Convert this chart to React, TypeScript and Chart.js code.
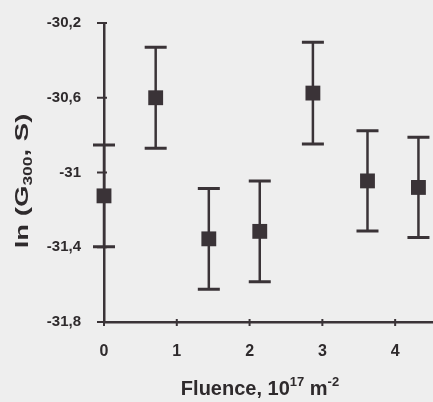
import React, { useEffect, useRef } from "react";
import { Chart, registerables } from "chart.js";

Chart.register(...registerables);

// Data
const fluence = [0.0, 0.71, 1.44, 2.14, 2.87, 3.62, 4.32];
const lnG = [-31.125, -30.6, -31.355, -31.315, -30.575, -31.045, -31.08];
const errors = [0.272, 0.27, 0.27, 0.27, 0.272, 0.268, 0.268];
const xTickValues = [0, 1, 2, 3, 4];
const yTickValues = [-31.8, -31.4, -31, -30.6, -30.2];

const INK = "#3a3337";
const BG = "#eeeeee";
const FONT = "'Liberation Sans', Arial, sans-serif";

const fmt = (v: number) => String(Number(v.toFixed(1))).replace(".", ",");

const decorPlugin = {
  id: "decor",
  beforeDraw(chart: any) {
    const { ctx, width, height } = chart;
    ctx.save();
    ctx.fillStyle = BG;
    ctx.fillRect(0, 0, width, height);
    ctx.restore();
  },
  beforeDatasetsDraw(chart: any) {
    const { ctx } = chart;
    const xs = chart.scales.x;
    const ys = chart.scales.y;
    ctx.save();
    ctx.strokeStyle = INK;
    ctx.lineCap = "butt";
    for (let i = 0; i < fluence.length; i++) {
      const x = xs.getPixelForValue(fluence[i]);
      const yt = ys.getPixelForValue(lnG[i] + errors[i]);
      const yb = ys.getPixelForValue(lnG[i] - errors[i]);
      ctx.lineWidth = 2.5;
      ctx.beginPath();
      ctx.moveTo(x, yt);
      ctx.lineTo(x, yb);
      ctx.stroke();
      ctx.lineWidth = 3;
      ctx.beginPath();
      ctx.moveTo(x - 11, yt);
      ctx.lineTo(x + 11, yt);
      ctx.moveTo(x - 11, yb);
      ctx.lineTo(x + 11, yb);
      ctx.stroke();
    }
    ctx.restore();
  },
  afterDraw(chart: any) {
    const { ctx, chartArea } = chart;
    const xs = chart.scales.x;
    const ys = chart.scales.y;
    ctx.save();
    ctx.strokeStyle = INK;
    ctx.lineWidth = 2;
    // tick marks crossing the axes
    for (const v of yTickValues) {
      const y = ys.getPixelForValue(v);
      ctx.beginPath();
      ctx.moveTo(chartArea.left - 7, y);
      ctx.lineTo(chartArea.left + 3, y);
      ctx.stroke();
    }
    for (const v of xTickValues) {
      const x = xs.getPixelForValue(v);
      ctx.beginPath();
      ctx.moveTo(x, chartArea.bottom - 3);
      ctx.lineTo(x, chartArea.bottom + 4);
      ctx.stroke();
    }

    ctx.fillStyle = "#2e2a2c";
    // x title: Fluence, 10^17 m^-2
    const big = `bold 20px ${FONT}`;
    const small = `bold 13px ${FONT}`;
    const parts: [string, string, number][] = [
      ["Fluence, 10", big, 0],
      ["17", small, -9],
      [" m", big, 0],
      ["-2", small, -9],
    ];
    let total = 0;
    for (const [t, f] of parts) {
      ctx.font = f;
      total += ctx.measureText(t).width;
    }
    let x = 260 - total / 2;
    const baseY = 395;
    ctx.textAlign = "left";
    ctx.textBaseline = "alphabetic";
    for (const [t, f, dy] of parts) {
      ctx.font = f;
      ctx.fillText(t, x, baseY + dy);
      x += ctx.measureText(t).width;
    }

    // y title: ln (G_300, S)
    const ybig = `bold 19px ${FONT}`;
    const ysmall = `bold 12px ${FONT}`;
    const yparts: [string, string, number][] = [
      ["ln (G", ybig, 0],
      ["300", ysmall, 4],
      [", S)", ybig, 0],
    ];
    let ytotal = 0;
    for (const [t, f] of yparts) {
      ctx.font = f;
      ytotal += ctx.measureText(t).width;
    }
    ctx.translate(28, 181);
    ctx.rotate(-Math.PI / 2);
    ctx.scale(1.45, 1);
    let px = -ytotal / 2;
    for (const [t, f, dy] of yparts) {
      ctx.font = f;
      ctx.fillText(t, px, dy);
      px += ctx.measureText(t).width;
    }
    ctx.restore();
  },
};

export default function App() {
  const ref = useRef<HTMLCanvasElement | null>(null);

  useEffect(() => {
    document.body.style.margin = "0";
    document.body.style.background = BG;
    const canvas = ref.current;
    if (!canvas) return;
    const chart = new Chart(canvas, {
      type: "scatter",
      data: {
        datasets: [
          {
            data: fluence.map((f, i) => ({ x: f, y: lnG[i] })),
            pointStyle: "rect",
            pointRadius: 10.5,
            pointHoverRadius: 10.5,
            backgroundColor: INK,
            borderColor: INK,
            borderWidth: 0,
            clip: false,
          },
        ],
      },
      plugins: [decorPlugin],
      options: {
        animation: false,
        responsive: false,
        events: [],
        layout: { autoPadding: false, padding: { top: 23, right: 0, left: 0, bottom: 0 } },
        plugins: {
          legend: { display: false },
          tooltip: { enabled: false },
        },
        scales: {
          x: {
            type: "linear",
            min: 0,
            max: 4.52,
            afterBuildTicks: (s: any) => {
              s.ticks = xTickValues.map((v) => ({ value: v }));
            },
            afterFit: (s: any) => {
              s.height = 80;
            },
            grid: { display: false, drawTicks: false },
            border: { display: true, color: INK, width: 2.5 },
            ticks: {
              padding: 20,
              color: "#2e2a2c",
              font: { family: FONT, size: 16, weight: "bold" },
              callback: (v: any) => String(v),
            },
          },
          y: {
            type: "linear",
            min: -31.8,
            max: -30.2,
            afterBuildTicks: (s: any) => {
              s.ticks = yTickValues.map((v) => ({ value: v }));
            },
            afterFit: (s: any) => {
              s.width = 104;
              s.paddingTop = 0;
              s.paddingBottom = 0;
            },
            grid: { display: false, drawTicks: false },
            border: { display: true, color: INK, width: 2.5 },
            ticks: {
              padding: 23,
              color: "#2e2a2c",
              font: { family: FONT, size: 15, weight: "bold" },
              callback: (v: any) => fmt(Number(v)),
            },
          },
        },
      },
    });
    return () => chart.destroy();
  }, []);

  return <canvas ref={ref} width={433} height={402} style={{ display: "block" }} />;
}
